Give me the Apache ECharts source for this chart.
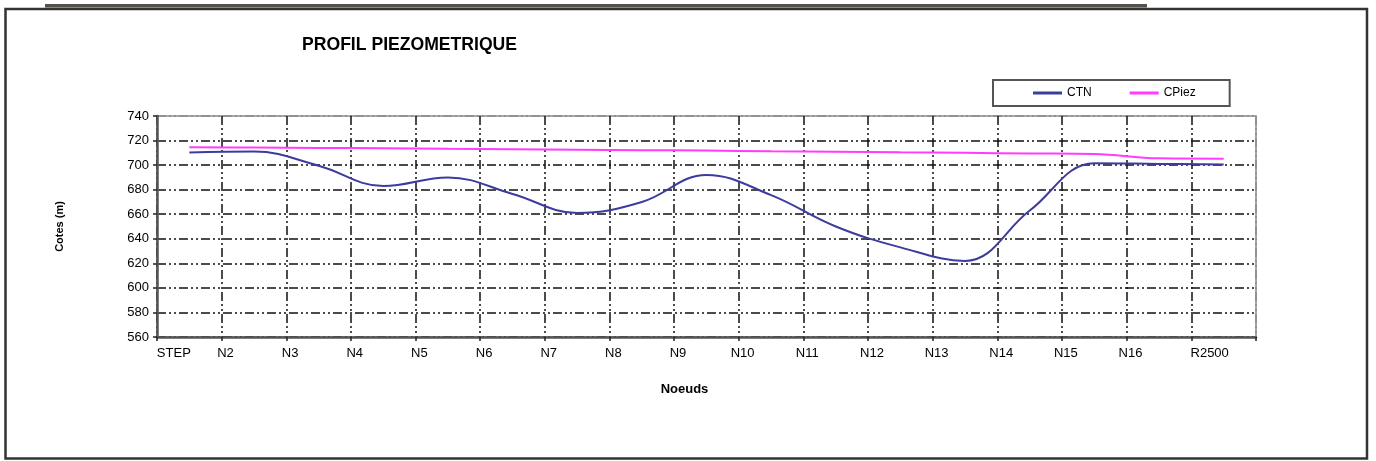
<!DOCTYPE html>
<html>
<head>
<meta charset="utf-8">
<script src="https://cdn.jsdelivr.net/npm/echarts@6/dist/echarts.min.js"></script>
<style>
html,body{margin:0;padding:0;background:#fff;}
#chart{width:1376px;height:461px;}
</style>
</head>
<body>
<div id="chart"></div>
<script>
const categories = ['STEP','N2','N3','N4','N5','N6','N7','N8','N9','N10','N11','N12','N13','N14','N15','N16','R2500'];
const ctnValues = [710.3, 711, 699.5, 683, 690, 676.5, 661, 670, 692, 675.5, 650, 633, 622, 663, 701.5, 701, 700.5];
const cpiezValues = [714.5, 714.3, 714, 713.7, 713.3, 713, 712.6, 712.2, 711.8, 711.3, 710.9, 710.4, 710, 709.5, 709, 705.5, 705.2];
const yTicks = { min: 560, max: 740, interval: 20 };
const seriesNames = ['CTN', 'CPiez'];

const FONT = '"Liberation Sans", Arial, sans-serif';
const chart = echarts.init(document.getElementById('chart'));

const nY = (yTicks.max - yTicks.min) / yTicks.interval + 1;
const yGridColors = [];
for (let i = 0; i < nY; i++) yGridColors.push(i === nY - 1 ? '#8a8a8a' : '#111');
const xGridColors = [];
for (let i = 0; i <= categories.length; i++) xGridColors.push(i === categories.length ? '#8a8a8a' : '#111');

const dashPattern = [9, 3, 2, 3, 2, 3];

chart.setOption({
  animation: false,
  backgroundColor: '#fff',
  textStyle: { fontFamily: FONT },
  title: {
    text: 'PROFIL PIEZOMETRIQUE',
    left: 302, top: 36, padding: 0,
    textStyle: { fontFamily: FONT, fontSize: 17.6, fontWeight: 'bold', color: '#000' }
  },
  legend: {
    data: seriesNames,
    left: 993, top: 80,
    padding: [7, 34, 7, 40],
    itemGap: 38,
    itemWidth: 29, itemHeight: 3,
    icon: 'rect',
    borderColor: '#555', borderWidth: 2,
    backgroundColor: '#fff',
    textStyle: { fontFamily: FONT, fontSize: 12, color: '#000' }
  },
  grid: {
    left: 157, right: 1376 - 1256, top: 116, bottom: 461 - 337,
    show: true, borderColor: '#8a8a8a', borderWidth: 1.5, backgroundColor: 'transparent'
  },
  xAxis: {
    type: 'category',
    data: categories,
    boundaryGap: true,
    name: 'Noeuds',
    nameLocation: 'middle',
    nameGap: 46,
    nameTextStyle: { fontFamily: FONT, fontSize: 13, fontWeight: 'bold', color: '#000', padding: [0, 44, 0, 0] },
    axisLine: { lineStyle: { color: '#555', width: 2.5 } },
    axisTick: { show: true, length: 4, interval: 0, lineStyle: { color: '#222', width: 1.5 } },
    axisLabel: {
      interval: 0, margin: 10,
      fontFamily: FONT, fontSize: 13, color: '#000',
      formatter: function (v, i) {
        const k = i === 0 ? 'f' : (i === categories.length - 1 ? 'l' : 'n');
        return '{' + k + '|' + v + '}';
      },
      rich: {
        f: { fontFamily: FONT, fontSize: 13, color: '#000', padding: [0, 31, 0, 0] },
        n: { fontFamily: FONT, fontSize: 13, color: '#000', padding: [0, 57, 0, 0] },
        l: { fontFamily: FONT, fontSize: 13, color: '#000', padding: [0, 28, 0, 0] }
      }
    },
    splitLine: { show: true, interval: 0, lineStyle: { color: xGridColors, width: 1.5, type: dashPattern } }
  },
  yAxis: {
    type: 'value',
    min: yTicks.min, max: yTicks.max, interval: yTicks.interval,
    name: 'Cotes (m)',
    nameLocation: 'middle',
    nameGap: 92,
    nameTextStyle: { fontFamily: FONT, fontSize: 11, fontWeight: 'bold', color: '#000' },
    axisLine: { show: true, lineStyle: { color: '#555', width: 2.5 } },
    axisTick: { show: true, length: 4, lineStyle: { color: '#222', width: 1.5 } },
    axisLabel: { margin: 8, fontFamily: FONT, fontSize: 13, color: '#000' },
    splitLine: { show: true, lineStyle: { color: yGridColors, width: 1.5, type: dashPattern } }
  },
  series: [
    {
      name: seriesNames[0], type: 'line', data: ctnValues,
      smooth: 0.4, symbol: 'none',
      itemStyle: { color: '#3c3c9e' },
      lineStyle: { color: '#3c3c9e', width: 2 }
    },
    {
      name: seriesNames[1], type: 'line', data: cpiezValues,
      smooth: 0.4, symbol: 'none',
      itemStyle: { color: '#ff3cff' },
      lineStyle: { color: '#ff3cff', width: 2 }
    }
  ],
  graphic: [
    { type: 'rect', shape: { x: 45, y: 4, width: 1102, height: 3.5 }, style: { fill: '#55514a' }, silent: true },
    { type: 'rect', shape: { x: 5.5, y: 9, width: 1361.5, height: 449.5 }, style: { fill: 'none', stroke: '#333', lineWidth: 2.5 }, silent: true }
  ]
});
</script>
</body>
</html>
